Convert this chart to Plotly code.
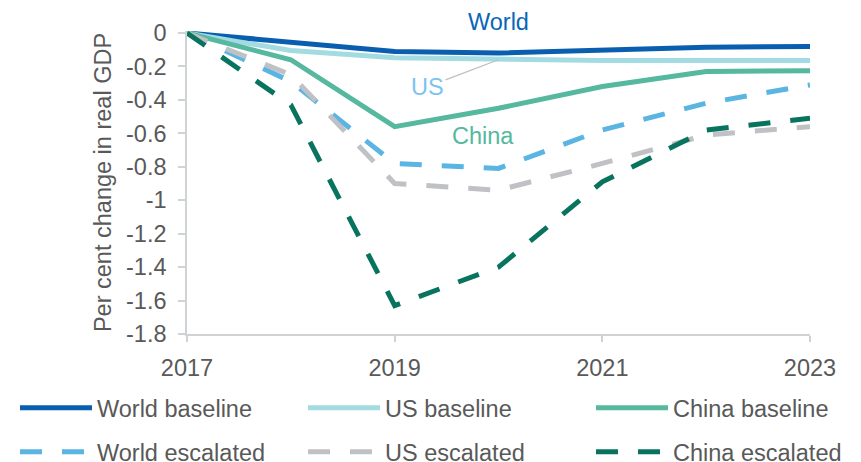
import plotly.graph_objects as go

years = [2017, 2018, 2019, 2020, 2021, 2022, 2023]
world_baseline = [0, -0.055, -0.11, -0.12, -0.105, -0.085, -0.08]
us_baseline = [0, -0.105, -0.148, -0.16, -0.165, -0.165, -0.165]
china_baseline = [0, -0.16, -0.56, -0.45, -0.32, -0.23, -0.225]
world_escalated = [0, -0.29, -0.78, -0.81, -0.58, -0.42, -0.31]
us_escalated = [0, -0.25, -0.90, -0.94, -0.78, -0.61, -0.56]
china_escalated = [0, -0.43, -1.63, -1.40, -0.89, -0.58, -0.51]

x_ticks = [2017, 2019, 2021, 2023]
y_ticks = [0, -0.2, -0.4, -0.6, -0.8, -1, -1.2, -1.4, -1.6, -1.8]
y_ticktext = ["0", "-0.2", "-0.4", "-0.6", "-0.8", "-1", "-1.2", "-1.4", "-1.6", "-1.8"]

FONT = "Liberation Sans, Arial, sans-serif"
FS = 23.5
TXT = "#595959"

series = [
    ("World baseline", world_baseline, "#0a5eb0", "solid"),
    ("US baseline", us_baseline, "#a3dbe2", "solid"),
    ("China baseline", china_baseline, "#55b89f", "solid"),
    ("World escalated", world_escalated, "#5ab5e2", "22px,20px"),
    ("US escalated", us_escalated, "#bfc1c4", "22px,20px"),
    ("China escalated", china_escalated, "#08745f", "22px,20px"),
]
legend_ids = ["legend", "legend2", "legend3", "legend4", "legend5", "legend6"]
legend_x = [15, 303, 591, 15, 303, 591]
legend_y = [408, 408, 408, 452, 452, 452]

fig = go.Figure()
for (name, vals, color, dash), lid in zip(series, legend_ids):
    fig.add_trace(go.Scatter(
        x=years, y=vals, name=name, mode="lines",
        line=dict(color=color, width=5, dash=dash),
        legend=lid, hoverinfo="skip",
    ))

W, H = 861, 462
layout_legends = {}
for lid, lx, ly in zip(legend_ids, legend_x, legend_y):
    layout_legends[lid] = dict(
        x=lx / W, y=1 - ly / H, xref="container", yref="container",
        xanchor="left", yanchor="middle", orientation="h",
        itemwidth=72, font=dict(family=FONT, size=FS, color=TXT),
        bgcolor="rgba(0,0,0,0)",
    )

fig.update_layout(
    width=W, height=H,
    margin=dict(l=187, r=51, t=30.5, b=128, autoexpand=False),
    paper_bgcolor="white", plot_bgcolor="white",
    font=dict(family=FONT, size=FS, color=TXT),
    showlegend=True,
    **layout_legends,
)

fig.update_xaxes(
    range=[2017, 2023], tickvals=x_ticks, ticktext=[str(t) for t in x_ticks],
    showgrid=False, zeroline=False, showline=True, linecolor="#d0d3d6", linewidth=1.5,
    ticks="outside", ticklen=6, tickcolor="#d0d3d6", tickwidth=1.5,
    tickfont=dict(family=FONT, size=FS, color=TXT), ticklabelstandoff=6,
)
fig.update_yaxes(
    range=[-1.8, 0.012], tickvals=y_ticks, ticktext=y_ticktext,
    showgrid=False, zeroline=False, showline=True, linecolor="#d0d3d6", linewidth=1.5,
    ticks="outside", ticklen=7, tickcolor="#d0d3d6", tickwidth=1.5,
    tickfont=dict(family=FONT, size=FS, color=TXT), ticklabelstandoff=7,
    title=dict(text="Per cent change in real GDP", font=dict(family=FONT, size=FS, color=TXT), standoff=8),
)

fig.add_annotation(x=2020, xref="x", y=1.031, yref="paper", text="World", showarrow=False,
                   font=dict(family=FONT, size=FS, color="#0a66b8"), xanchor="center", yanchor="middle")
fig.add_annotation(x=2020, y=-0.16, ax=-71, ay=27, text="US", showarrow=True, arrowhead=0,
                   arrowcolor="#bfbfbf", arrowwidth=1.3, standoff=0,
                   font=dict(family=FONT, size=FS, color="#7cc3f0"))
fig.add_annotation(x=2019.85, y=-0.618, text="China", showarrow=False,
                   font=dict(family=FONT, size=FS, color="#55b89f"), xanchor="center", yanchor="middle")

fig.write_html("out.html", config={"displayModeBar": False},
               post_script="document.body.style.margin='0';document.body.style.padding='0';")
